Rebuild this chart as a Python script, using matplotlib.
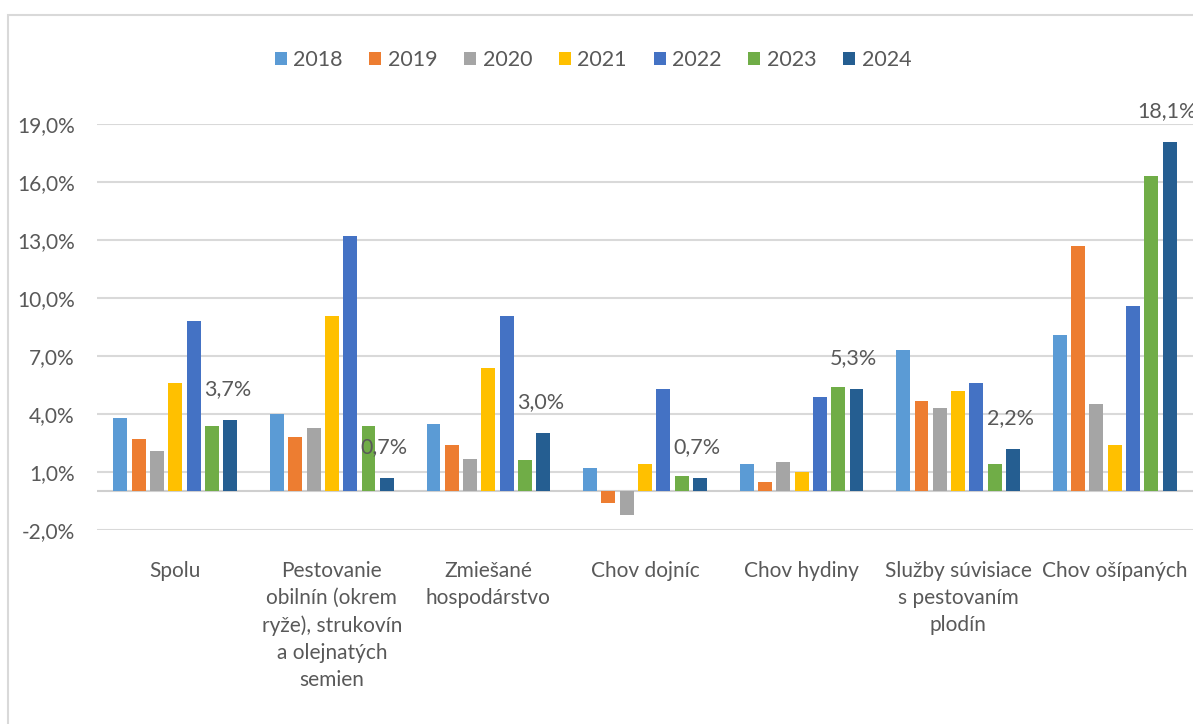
import matplotlib
matplotlib.use("Agg")
import matplotlib.pyplot as plt
import numpy as np
from matplotlib.patches import Rectangle

plt.rcParams["font.family"] = ["Lato", "DejaVu Sans"]

categories = [
    "Spolu",
    "Pestovanie\nobilnín (okrem\nryže), strukovín\na olejnatých\nsemien",
    "Zmiešané\nhospodárstvo",
    "Chov dojníc",
    "Chov hydiny",
    "Služby súvisiace\ns pestovaním\nplodín",
    "Chov ošípaných",
]
years = ["2018", "2019", "2020", "2021", "2022", "2023", "2024"]
v2018 = [3.8, 4.0, 3.5, 1.2, 1.4, 7.3, 8.1]
v2019 = [2.7, 2.8, 2.4, -0.6, 0.5, 4.7, 12.7]
v2020 = [2.1, 3.3, 1.7, -1.2, 1.5, 4.3, 4.5]
v2021 = [5.6, 9.1, 6.4, 1.4, 1.0, 5.2, 2.4]
v2022 = [8.8, 13.2, 9.1, 5.3, 4.9, 5.6, 9.6]
v2023 = [3.4, 3.4, 1.6, 0.8, 5.4, 1.4, 16.3]
v2024 = [3.7, 0.7, 3.0, 0.7, 5.3, 2.2, 18.1]
series = [v2018, v2019, v2020, v2021, v2022, v2023, v2024]
colors = ["#5B9BD5", "#ED7D31", "#A5A5A5", "#FFC000", "#4472C4", "#70AD47", "#255E91"]
yticks = [-2, 1, 4, 7, 10, 13, 16, 19]

TXT = "#595959"
GRID = "#d9d9d9"

fig = plt.figure(figsize=(11.93, 7.24), dpi=100)
ax = fig.add_axes([97 / 1193, (724 - 530) / 724, 1 - 97 / 1193, 405.7 / 724])

# light frame around the chart area (cut off at right/bottom like the source)
fig.patches.append(Rectangle((8 / 1193, -0.1), 1.2, (724 - 15) / 724 + 0.1,
                             transform=fig.transFigure, fill=False,
                             edgecolor=GRID, linewidth=1.5))

x = np.arange(len(categories))
pitch = 0.117
width = 0.089
for i, (yr, vals, col) in enumerate(zip(years, series, colors)):
    pos = x + (i - 3) * pitch
    ax.bar(pos, vals, width=width, color=col, label=yr, zorder=3)
    if yr == "2024":
        for px, v in zip(pos, vals):
            ax.annotate(f"{v:.1f}%".replace(".", ","), (px, v),
                        xytext=(-3, 31), textcoords="offset pixels",
                        ha="center", va="center", fontsize=15.5, color=TXT,
                        zorder=4, annotation_clip=False)

ax.set_xlim(-0.5, len(categories) - 0.5)
ax.set_ylim(-2, 19)
ax.set_yticks(yticks)
ax.set_yticklabels([f"{t:.1f}%".replace(".", ",") for t in yticks])
ax.set_xticks(x)
ax.set_xticklabels(categories, linespacing=1.45)
ax.tick_params(axis="both", length=0, labelsize=15, labelcolor=TXT)
ax.tick_params(axis="y", pad=16)
ax.tick_params(axis="x", pad=22)
ax.grid(axis="y", color=GRID, linewidth=1.5, zorder=0)
ax.axhline(0, color="#cfcfcf", linewidth=1.5, zorder=2)
for s in ax.spines.values():
    s.set_visible(False)

fig.legend(loc="center", bbox_to_anchor=(0.497, 1 - 60 / 724), ncol=7,
           frameon=False, fontsize=15.5, handlelength=0.55, handleheight=0.55,
           handletextpad=0.3, columnspacing=1.25, labelcolor=TXT)

fig.savefig("out.png", dpi=100)
